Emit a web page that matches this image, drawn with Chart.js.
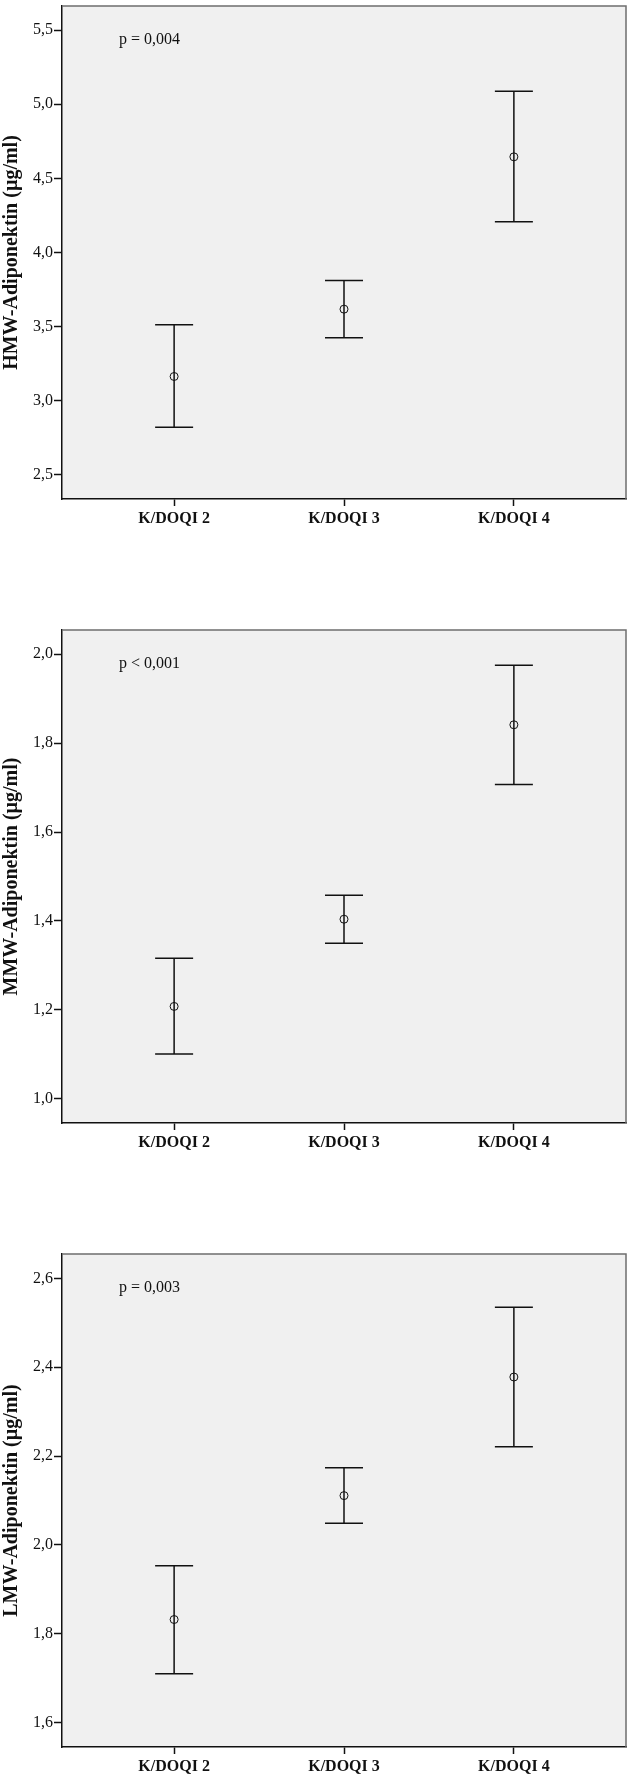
<!DOCTYPE html>
<html lang="de">
<head>
<meta charset="UTF-8">
<title>Adiponektin nach K/DOQI-Stadium</title>
<script src="https://cdn.jsdelivr.net/npm/chart.js"></script>
<style>
    body { margin: 0; background: #fff; width: 627px; height: 1780px; overflow: hidden; position: relative; }
    .panel { position: absolute; left: 0; width: 627px; height: 532px; }
</style>
</head>
<body>
<div class="panel" style="top:0"><canvas id="hmwChart" width="627" height="532"></canvas></div>
<div class="panel" style="top:624px"><canvas id="mmwChart" width="627" height="532"></canvas></div>
<div class="panel" style="top:1248px"><canvas id="lmwChart" width="627" height="532"></canvas></div>

<script>
    const categories = ['K/DOQI 2', 'K/DOQI 3', 'K/DOQI 4'];

    const hmwMean = [3.164, 3.618, 4.645];
    const hmwLower = [2.822, 3.425, 4.208];
    const hmwUpper = [3.513, 3.812, 5.088];
    const hmwTicks = [2.5, 3.0, 3.5, 4.0, 4.5, 5.0, 5.5];

    const mmwMean = [1.208, 1.404, 1.841];
    const mmwLower = [1.101, 1.350, 1.707];
    const mmwUpper = [1.316, 1.458, 1.975];
    const mmwTicks = [1.0, 1.2, 1.4, 1.6, 1.8, 2.0];

    const lmwMean = [1.832, 2.111, 2.378];
    const lmwLower = [1.710, 2.049, 2.221];
    const lmwUpper = [1.953, 2.174, 2.535];
    const lmwTicks = [1.6, 1.8, 2.0, 2.2, 2.4, 2.6];

    const ink = '#111';
    const serif = 'Liberation Serif';

    // grey plot background, thin frame on top/right, p-value note
    const frame = {
        id: 'frame',
        beforeDraw(chart) {
            const { ctx, chartArea: a } = chart;
            ctx.save();
            ctx.fillStyle = '#f0f0f0';
            ctx.fillRect(a.left, a.top, a.right - a.left, a.bottom - a.top);
            ctx.restore();
        },
        afterDraw(chart, args, opts) {
            const { ctx, chartArea: a } = chart;
            ctx.save();
            ctx.strokeStyle = '#6e6e6e';
            ctx.lineWidth = 1.5;
            ctx.beginPath();
            ctx.moveTo(a.left, a.top);
            ctx.lineTo(a.right, a.top);
            ctx.lineTo(a.right, a.bottom);
            ctx.stroke();
            ctx.fillStyle = ink;
            ctx.font = '16px "' + serif + '"';
            ctx.textBaseline = 'middle';
            ctx.fillText(opts.text, a.left + 57, a.top + 34);
            ctx.restore();
        }
    };

    function makeChart(id, mean, lower, upper, ticks, min, max, title, pText) {
        const whisker = [];
        categories.forEach((c, i) => {
            whisker.push({ x: i, y: lower[i] }, { x: i, y: upper[i] }, { x: i + 0.5, y: null });
        });
        const caps = categories.flatMap((c, i) => [{ x: i, y: lower[i] }, { x: i, y: upper[i] }]);
        const means = mean.map((v, i) => ({ x: i, y: v }));

        new Chart(document.getElementById(id), {
            type: 'scatter',
            data: {
                datasets: [
                    { type: 'line', data: whisker, borderColor: ink, borderWidth: 1.5, pointRadius: 0, spanGaps: false, fill: false },
                    { data: caps, pointStyle: 'line', pointRadius: 19, borderColor: ink, pointBorderWidth: 1.5 },
                    { data: means, pointStyle: 'circle', pointRadius: 4, borderColor: ink, backgroundColor: 'rgba(0,0,0,0)', pointBorderWidth: 1 }
                ]
            },
            options: {
                responsive: false,
                animation: false,
                events: [],
                layout: { autoPadding: false, padding: { top: 6, right: 1, left: 0, bottom: 0 } },
                plugins: {
                    legend: { display: false },
                    tooltip: { enabled: false },
                    frame: { text: pText }
                },
                scales: {
                    x: {
                        type: 'linear',
                        min: -0.66,
                        max: 2.66,
                        afterBuildTicks: s => { s.ticks = categories.map((c, i) => ({ value: i })); },
                        afterFit: s => {
                            s.height = 33;
                            s.paddingLeft = 0;
                            s.paddingRight = 0;
                        },
                        ticks: {
                            autoSkip: false,
                            maxRotation: 0,
                            padding: 3,
                            color: ink,
                            font: { family: serif, size: 16, weight: 'bold' },
                            callback: v => categories[v]
                        },
                        grid: { drawOnChartArea: false, tickLength: 7, tickColor: ink, tickWidth: 1.5 },
                        border: { color: ink, width: 1.5 }
                    },
                    y: {
                        min: min,
                        max: max,
                        afterBuildTicks: s => { s.ticks = ticks.map(v => ({ value: v })); },
                        afterFit: s => {
                            s.width = 62;
                            s.paddingTop = 0;
                            s.paddingBottom = 0;
                        },
                        ticks: {
                            autoSkip: false,
                            padding: 1,
                            color: ink,
                            font: { family: serif, size: 16 },
                            callback: v => v.toFixed(1).replace('.', ',')
                        },
                        grid: { drawOnChartArea: false, tickLength: 8, tickColor: ink, tickWidth: 1.5 },
                        border: { color: ink, width: 1.5 },
                        title: {
                            display: true,
                            text: title,
                            color: ink,
                            padding: 0,
                            font: { family: serif, size: 20, weight: 'bold' }
                        }
                    }
                }
            },
            plugins: [frame]
        });
    }

    makeChart('hmwChart', hmwMean, hmwLower, hmwUpper, hmwTicks, 2.338, 5.662, 'HMW-Adiponektin (µg/ml)', 'p = 0,004');
    makeChart('mmwChart', mmwMean, mmwLower, mmwUpper, mmwTicks, 0.946, 2.054, 'MMW-Adiponektin (µg/ml)', 'p < 0,001');
    makeChart('lmwChart', lmwMean, lmwLower, lmwUpper, lmwTicks, 1.545, 2.655, 'LMW-Adiponektin (µg/ml)', 'p = 0,003');
</script>
</body>
</html>
